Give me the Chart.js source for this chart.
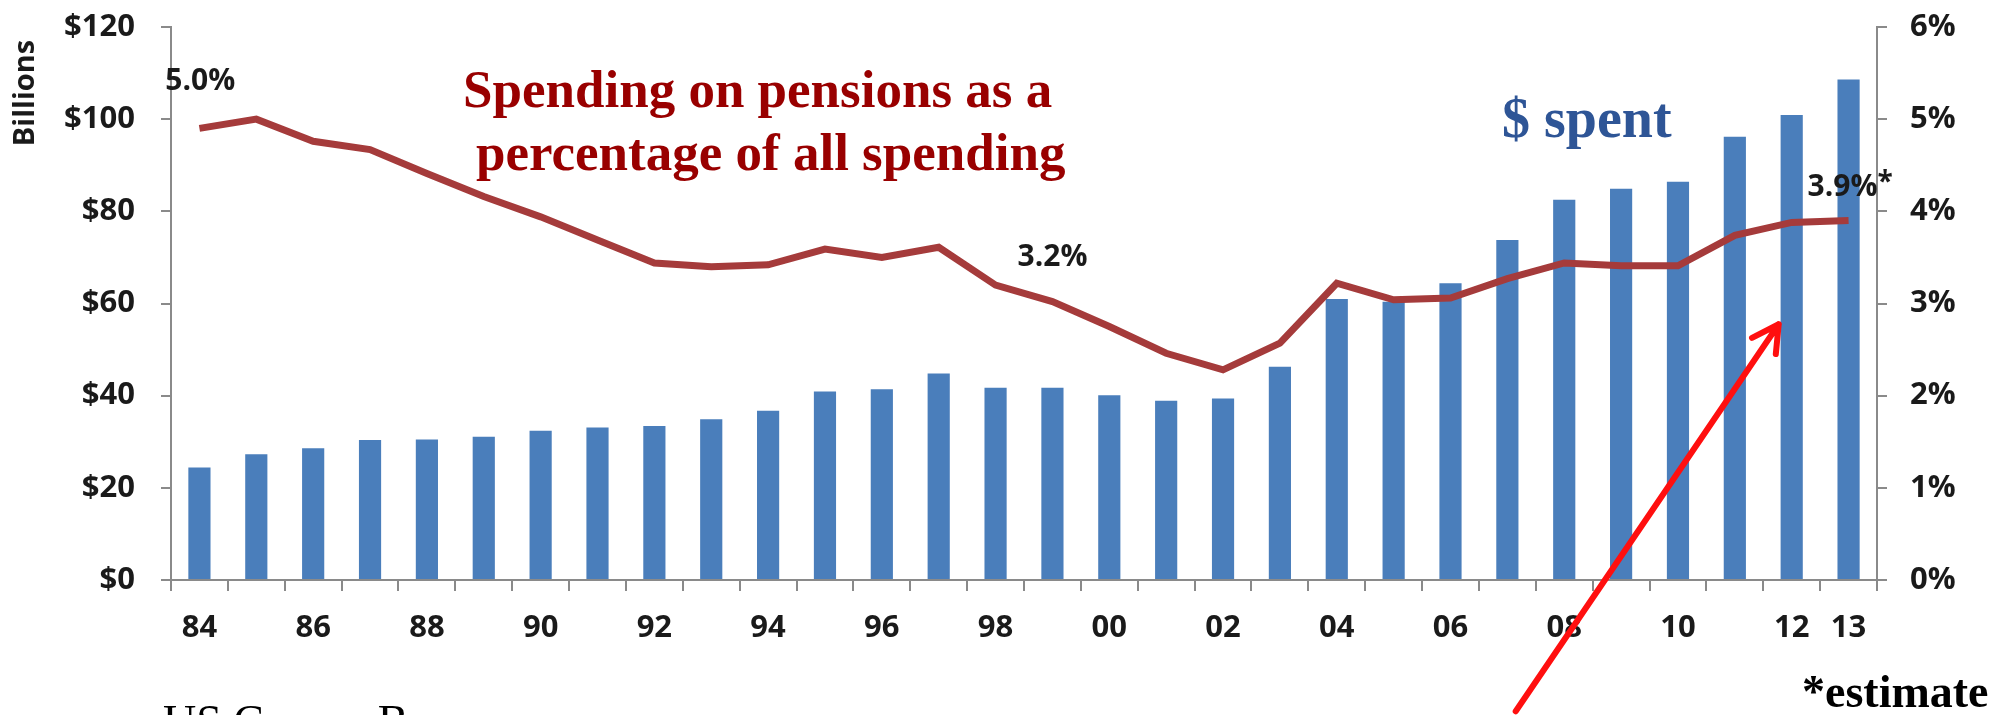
<!DOCTYPE html>
<html>
<head>
<meta charset="utf-8">
<script src="https://cdn.jsdelivr.net/npm/chart.js@4.4.1/dist/chart.umd.min.js"></script>
<style>
  html, body { margin: 0; padding: 0; background: #ffffff; }
  canvas { display: block; }
</style>
</head>
<body>
<canvas id="chart" width="2005" height="715"></canvas>
<script>
// Fiscal years 1984-2013 (two-digit labels)
const years = ['84','85','86','87','88','89','90','91','92','93','94','95','96','97','98','99',
               '00','01','02','03','04','05','06','07','08','09','10','11','12','13'];

// Dollars spent on pensions, billions
const pensionDollars = [24.4, 27.3, 28.6, 30.4, 30.5, 31.1, 32.4, 33.1, 33.4, 34.9,
                        36.7, 40.9, 41.4, 44.8, 41.7, 41.7, 40.1, 38.9, 39.4, 46.3,
                        61.0, 60.4, 64.4, 73.8, 82.5, 84.9, 86.4, 96.2, 100.9, 108.6];

// Pension spending as a percentage of all spending
const pensionShare = [4.9, 5.0, 4.76, 4.67, 4.41, 4.16, 3.94, 3.69, 3.44, 3.40,
                      3.42, 3.59, 3.50, 3.61, 3.2, 3.02, 2.75, 2.46, 2.28, 2.57,
                      3.22, 3.04, 3.06, 3.27, 3.44, 3.41, 3.41, 3.74, 3.88, 3.9];

// Axis ticks
const dollarTicks = [0, 20, 40, 60, 80, 100, 120];
const shareTicks = [0, 1, 2, 3, 4, 5, 6];

// Years whose share value is written on the chart, and which are estimates
const calloutYears = ['85', '98', '13'];
const estimateYears = ['13'];

// Where each callout sits relative to its point (pixels)
const calloutOffsets = { '85': [-56, -38], '98': [57, -28], '13': [-6, -33] };

const AXIS_GREY = '#8a8a8a';
const TICK_TEXT = '#1a1a1a';
const LABEL_FAMILY = '"Open Sans", sans-serif';
const tickFont = { family: LABEL_FAMILY, weight: 'bold', size: 31 };

// Keep the value axes from reserving extra room above/below the plot
const trimVerticalAxis = width => s => {
  s.width = width;
  s.paddingTop = 0;
  s.paddingBottom = 0;
};

const overlay = {
  id: 'overlay',
  afterDatasetsDraw(chart) {
    const ctx = chart.ctx;
    const xs = chart.scales.x;
    const ys = chart.scales.y1;
    ctx.save();
    ctx.fillStyle = TICK_TEXT;
    ctx.textAlign = 'center';
    ctx.textBaseline = 'middle';
    calloutYears.forEach(yr => {
      const i = years.indexOf(yr);
      const v = pensionShare[i];
      const off = calloutOffsets[yr];
      const px = xs.getPixelForValue(i) + off[0];
      const py = ys.getPixelForValue(v) + off[1];
      const txt = v.toFixed(1) + '%';
      ctx.font = 'bold 30px ' + LABEL_FAMILY;
      ctx.fillText(txt, px, py);
      if (estimateYears.includes(yr)) {
        const w = ctx.measureText(txt).width;
        ctx.font = 'bold 28px ' + LABEL_FAMILY;
        ctx.textAlign = 'left';
        ctx.fillText('*', px + w / 2, py - 5);
        ctx.textAlign = 'center';
      }
    });
    ctx.restore();
  },
  afterDraw(chart) {
    const ctx = chart.ctx;
    const xs = chart.scales.x;
    const yd = chart.scales.y;
    ctx.save();

    // Axis title on the dollar axis
    ctx.save();
    ctx.translate(26, 93);
    ctx.rotate(-Math.PI / 2);
    ctx.font = 'bold 29px ' + LABEL_FAMILY;
    ctx.fillStyle = TICK_TEXT;
    ctx.textAlign = 'center';
    ctx.textBaseline = 'middle';
    ctx.fillText('Billions', 0, 0);
    ctx.restore();

    // Series captions
    ctx.textBaseline = 'alphabetic';
    ctx.textAlign = 'left';
    ctx.fillStyle = '#990000';
    ctx.font = 'bold 53px "Liberation Serif"';
    ctx.fillText('Spending on pensions as a', 463, 107);
    ctx.fillText('percentage of all spending', 476, 170);

    ctx.fillStyle = '#2E5596';
    ctx.font = 'bold 56px "Liberation Serif"';
    ctx.fillText('$ spent', 1502, 137);

    ctx.fillStyle = '#000000';
    ctx.font = 'bold 46px "Liberation Serif"';
    ctx.fillText('*estimate', 1802, 707);

    ctx.font = '46px "Liberation Serif"';
    ctx.fillText('US Census Bureau', 163, 737);

    // Red pointer toward the recent bars
    const tipX = xs.getPixelForValue(28) - 13;
    const tipY = yd.getPixelForValue(55.5);
    const tailX = tipX - 263;
    const tailY = tipY + 387;
    ctx.strokeStyle = '#ff0f0f';
    ctx.lineWidth = 6;
    ctx.lineCap = 'round';
    ctx.lineJoin = 'round';
    ctx.beginPath();
    ctx.moveTo(tailX, tailY);
    ctx.lineTo(tipX, tipY);
    const ang = Math.atan2(tipY - tailY, tipX - tailX);
    const head = 30;
    ctx.moveTo(tipX - head * Math.cos(ang - 0.5), tipY - head * Math.sin(ang - 0.5));
    ctx.lineTo(tipX, tipY);
    ctx.lineTo(tipX - head * Math.cos(ang + 0.5), tipY - head * Math.sin(ang + 0.5));
    ctx.stroke();

    ctx.restore();
  }
};

new Chart(document.getElementById('chart'), {
  type: 'bar',
  data: {
    labels: years,
    datasets: [
      {
        type: 'line',
        label: 'Share of all spending',
        data: pensionShare,
        yAxisID: 'y1',
        borderColor: '#A53B3B',
        borderWidth: 7,
        pointRadius: 0,
        tension: 0,
        fill: false,
        order: 0
      },
      {
        type: 'bar',
        label: '$ spent',
        data: pensionDollars,
        yAxisID: 'y',
        backgroundColor: '#4A7EBB',
        barPercentage: 0.39,
        categoryPercentage: 1.0,
        order: 1
      }
    ]
  },
  options: {
    responsive: false,
    devicePixelRatio: 1,
    animation: false,
    layout: { padding: { top: 27, left: 0, right: 0, bottom: 0 } },
    plugins: {
      legend: { display: false },
      tooltip: { enabled: false }
    },
    scales: {
      x: {
        offset: true,
        grid: { offset: true, drawOnChartArea: false, drawTicks: true, tickLength: 11, color: AXIS_GREY, lineWidth: 2 },
        border: { display: true, color: AXIS_GREY, width: 2 },
        ticks: {
          autoSkip: false, maxRotation: 0, minRotation: 0, padding: 19,
          color: TICK_TEXT, font: tickFont,
          callback: (v, i) => (i % 2 === 0 || i === years.length - 1) ? years[i] : ''
        },
        afterFit: s => { s.height = 135; }
      },
      y: {
        position: 'left',
        min: dollarTicks[0],
        max: dollarTicks[dollarTicks.length - 1],
        afterBuildTicks: s => { s.ticks = dollarTicks.map(v => ({ value: v })); },
        grid: { drawOnChartArea: false, drawTicks: true, tickLength: 10, color: AXIS_GREY, lineWidth: 2 },
        border: { display: true, color: AXIS_GREY, width: 2 },
        ticks: { padding: 26, color: TICK_TEXT, font: tickFont, callback: v => '$' + v },
        afterFit: trimVerticalAxis(171)
      },
      y1: {
        position: 'right',
        min: shareTicks[0],
        max: shareTicks[shareTicks.length - 1],
        afterBuildTicks: s => { s.ticks = shareTicks.map(v => ({ value: v })); },
        grid: { drawOnChartArea: false, drawTicks: true, tickLength: 10, color: AXIS_GREY, lineWidth: 2 },
        border: { display: true, color: AXIS_GREY, width: 2 },
        ticks: { padding: 23, color: TICK_TEXT, font: tickFont, callback: v => v + '%' },
        afterFit: trimVerticalAxis(128)
      }
    }
  },
  plugins: [overlay]
});
</script>
</body>
</html>
